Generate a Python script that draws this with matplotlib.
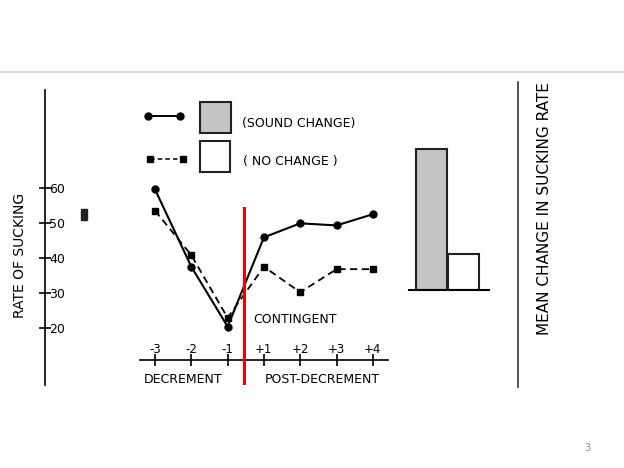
import numpy as np
import matplotlib
matplotlib.use('Agg')
import matplotlib.pyplot as plt
from matplotlib.patches import Rectangle

plt.rcParams['font.family'] = 'DejaVu Sans'

# data
periods = ['-3', '-2', '-1', '+1', '+2', '+3', '+4']
sound_change = [59.7, 37.6, 20.5, 46.0, 50.0, 49.4, 52.6]
no_change = [53.6, 40.9, 23.0, 37.6, 30.3, 36.9, 36.9]
rate_ticks = [20, 30, 40, 50, 60]
group_names = ['SOUND CHANGE', 'NO CHANGE']
mean_change = [14.1, 3.6]

W, H = 624, 468
fig = plt.figure(figsize=(W / 100, H / 100), dpi=100)


def px_axes(x0, y0, x1, y1):
    # axes placed by pixel box (top-left origin)
    return fig.add_axes([x0 / W, 1 - y1 / H, (x1 - x0) / W, (y1 - y0) / H])


# page layer: rules, legend, page number
bg = px_axes(0, 0, W, H)
bg.set_xlim(0, W)
bg.set_ylim(H, 0)
bg.axis('off')
bg.plot([0, W], [72, 72], color='#dadada', lw=1.5)
bg.plot([518, 518], [82, 387], color='#333333', lw=1.2)
bg.add_patch(Rectangle((81, 209), 6, 11, color='#222222'))
bg.text(587, 448, '3', color='#8a8a8a', fontsize=7, ha='center', va='center')

# legend
bg.plot([148, 180], [116, 116], '-o', color='k', lw=1.4, ms=5)
bg.plot([150, 183], [159, 159], ls=(0, (3, 2)), marker='s', color='k', lw=1.1, ms=4.5)
bg.add_patch(Rectangle((200, 102), 31, 31, facecolor='#c4c4c4', edgecolor='#222222', lw=1.5))
bg.add_patch(Rectangle((200, 141), 30, 31, facecolor='white', edgecolor='#222222', lw=1.5))
bg.text(242, 123, '(' + group_names[0] + ')', fontsize=9, va='center', ha='left')
bg.text(243, 162, '( ' + group_names[1] + ' )', fontsize=9, va='center', ha='left')

# ---------------- line chart ----------------
ax = px_axes(45, 90, 395, 385)
ax.patch.set_alpha(0)
xs = np.arange(len(periods))
ax.plot(xs, sound_change, '-o', color='k', lw=1.5, ms=5, zorder=3)
ax.plot(xs, no_change, ls=(0, (4, 2.5)), marker='s', color='k', lw=1.3, ms=4.5, zorder=3)
ax.set_xlim(-3.03, 6.61)
ax.set_ylim(3.8, 88.1)

for s in ['top', 'right']:
    ax.spines[s].set_visible(False)
ax.spines['left'].set_linewidth(1.2)
ax.spines['bottom'].set_linewidth(1.2)
ax.spines['bottom'].set_position(('data', 10.9))
ax.spines['bottom'].set_bounds(-0.41, 6.42)

ax.set_xticks(xs, periods)
ax.set_yticks(rate_ticks)
ax.tick_params(axis='x', direction='inout', length=8, width=1.2, pad=-16.5, labelsize=8.5)
ax.tick_params(axis='y', direction='inout', length=8, width=1.2, pad=-18.5, labelsize=9)

ax.set_ylabel('RATE OF SUCKING', fontsize=10)
ax.yaxis.set_label_coords(-0.05, 0.44)

ax.axvline(2.45, ymin=0, ymax=0.6, color='#ee0000', lw=2.2, zorder=4)
ax.text(3.86, 22.4, 'CONTINGENT', fontsize=9, ha='center', va='center')
ax.text(0.77, 5.5, 'DECREMENT', fontsize=9, ha='center', va='center')
ax.text(4.6, 5.5, 'POST-DECREMENT', fontsize=9, ha='center', va='center')

# ---------------- bar chart ----------------
axb = px_axes(409, 80, 489, 290)
axb.patch.set_alpha(0)
axb.bar([0, 1], mean_change, width=0.97, color=['#c4c4c4', 'white'],
        edgecolor='#222222', lw=1.5)
axb.set_xlim(-0.70, 1.80)
axb.set_ylim(0, 21)
for s in ['top', 'right', 'left']:
    axb.spines[s].set_visible(False)
axb.spines['bottom'].set_linewidth(1.5)
axb.set_xticks([])
axb.set_yticks([])
axb.yaxis.set_label_position('right')
axb.set_ylabel('MEAN CHANGE IN SUCKING RATE', fontsize=11)
axb.yaxis.set_label_coords(1.6, 0.386)

fig.savefig('out.png', dpi=100)
